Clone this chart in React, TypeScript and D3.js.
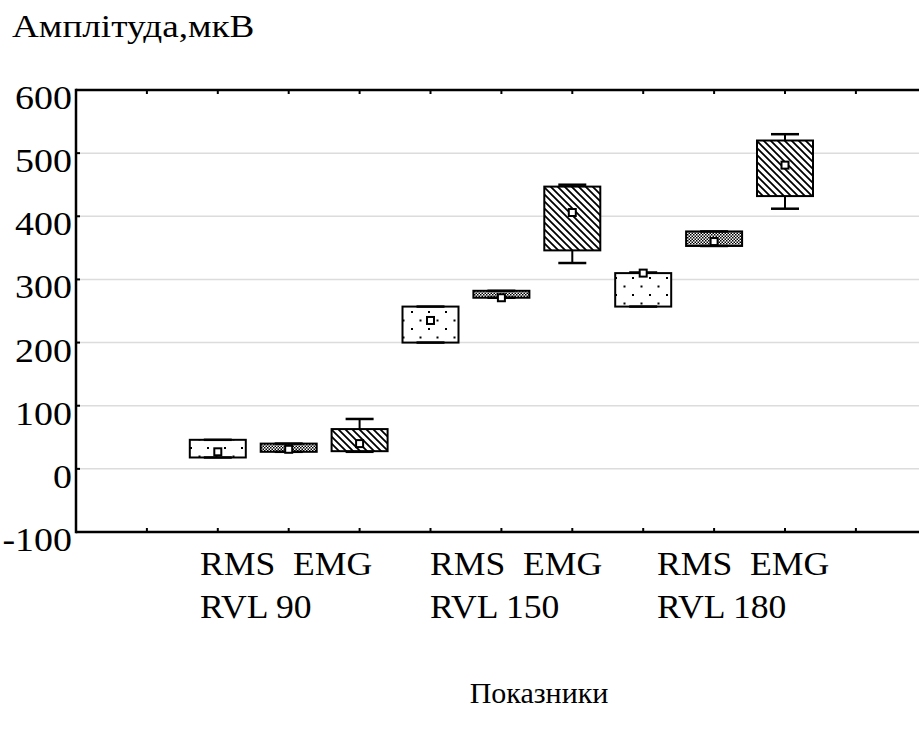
import React from "react";
import * as d3 from "d3";

// ---- data ----
const groupLabels1 = ["RMS  EMG", "RMS  EMG", "RMS  EMG"];
const groupLabels2 = ["RVL 90", "RVL 150", "RVL 180"];
const boxPatterns = ["dots", "dense", "hatch", "dots", "dense", "hatch", "dots", "dense", "hatch"];
const boxPositions = [2, 3, 4, 5, 6, 7, 8, 9, 10];
const boxLow = [18, 27, 28, 200, 271, 346, 257, 353, 432];
const boxHigh = [46, 40, 63, 257, 282, 447, 310, 376, 520];
const whiskerMin = [18, 27, 27, 200, 271, 326, 257, 353, 412];
const whiskerMax = [46, 40, 79, 257, 282, 450, 311, 376, 530];
const means = [27, 31, 40, 235, 271, 406, 310, 360, 481];
const yTicks = [-100, 0, 100, 200, 300, 400, 500, 600];
const gridValues = [0, 100, 200, 300, 400, 500];
const xTicks = [1, 2, 3, 4, 5, 6, 7, 8, 9, 10, 11];
const yTitle = "Амплітуда,мкВ";
const xTitle = "Показники";

// ---- layout ----
const W = 919;
const H = 729;
const left = 76;
const top = 90;
const bottom = 532;
const step = 70.9;
const FONT = "Liberation Serif";

export default function App() {
  const x = d3.scaleLinear().domain([0, 12]).range([left, left + step * 12]);
  const y = d3.scaleLinear().domain([-100, 600]).range([bottom, top]);
  const boxW = 56;
  const capW = 28;
  const labelX = [200, 430, 657];
  const ts = { fontFamily: FONT } as React.CSSProperties;

  return (
    <svg
      width={W}
      height={H}
      style={{ position: "absolute", left: 0, top: 0, display: "block", background: "#fff" }}
    >
      <defs>
        <pattern id="dots" width={17} height={17} patternUnits="userSpaceOnUse" x={0} y={2}>
          <rect width={17} height={17} fill="#fff" />
          <rect x={3} y={3} width={2} height={2} fill="#000" />
          <rect x={11.5} y={11.5} width={2} height={2} fill="#000" />
        </pattern>
        <pattern id="dense" width={3} height={3} patternUnits="userSpaceOnUse">
          <rect width={3} height={3} fill="#fff" />
          <rect x={0} y={0} width={1.5} height={1.5} fill="#000" />
          <rect x={1.5} y={1.5} width={1.5} height={1.5} fill="#000" />
        </pattern>
        <pattern id="hatch" width={7} height={7} patternUnits="userSpaceOnUse">
          <rect width={7} height={7} fill="#fff" />
          <path d="M-1,-1 L8,8 M-1,6 L1,8 M6,-1 L8,1" stroke="#000" strokeWidth={1.8} />
        </pattern>
      </defs>

      {/* title */}
      <text transform="translate(12,37) scale(1.2,1)" fontSize={31} fill="#000" style={ts}>{yTitle}</text>

      {/* grid */}
      {gridValues.map((v) => (
        <line key={"g" + v} x1={left} x2={W} y1={y(v)} y2={y(v)} stroke="#dcdcdc" strokeWidth={1.5} />
      ))}

      {/* axes */}
      <line x1={left} x2={W} y1={top} y2={top} stroke="#000" strokeWidth={2.5} />
      <line x1={left} x2={W} y1={bottom} y2={bottom} stroke="#000" strokeWidth={2.5} />
      <line x1={left} x2={left} y1={top - 1.2} y2={bottom + 1.2} stroke="#000" strokeWidth={2.5} />

      {xTicks.map((t) => (
        <g key={"xt" + t}>
          <line x1={x(t)} x2={x(t)} y1={top} y2={top + 4} stroke="#000" strokeWidth={2} />
          <line x1={x(t)} x2={x(t)} y1={bottom} y2={bottom - 4} stroke="#000" strokeWidth={2} />
        </g>
      ))}

      {yTicks.map((t) => (
        <g key={"yt" + t}>
          <line x1={left} x2={left + 4} y1={y(t)} y2={y(t)} stroke="#000" strokeWidth={2} />
          <text
            transform={`translate(72,${y(t) + 19}) scale(1.15,1)`}
            fontSize={33}
            textAnchor="end"
            fill="#000"
            style={ts}
          >
            {t}
          </text>
        </g>
      ))}

      {/* boxes */}
      {boxPositions.map((p, i) => {
        const cx = x(p);
        return (
          <g key={"b" + i}>
            <line x1={cx} x2={cx} y1={y(whiskerMax[i])} y2={y(boxHigh[i])} stroke="#000" strokeWidth={2} />
            <line x1={cx} x2={cx} y1={y(boxLow[i])} y2={y(whiskerMin[i])} stroke="#000" strokeWidth={2} />
            <rect
              x={cx - boxW / 2}
              y={y(boxHigh[i])}
              width={boxW}
              height={y(boxLow[i]) - y(boxHigh[i])}
              fill={`url(#${boxPatterns[i]})`}
              stroke="#000"
              strokeWidth={2}
            />
            <line x1={cx - capW / 2} x2={cx + capW / 2} y1={y(whiskerMax[i])} y2={y(whiskerMax[i])} stroke="#000" strokeWidth={2.5} />
            <line x1={cx - capW / 2} x2={cx + capW / 2} y1={y(whiskerMin[i])} y2={y(whiskerMin[i])} stroke="#000" strokeWidth={2.5} />
            <rect x={cx - 3.5} y={y(means[i]) - 3.5} width={7} height={7} fill="#fff" stroke="#000" strokeWidth={2} />
          </g>
        );
      })}

      {/* category labels */}
      {groupLabels1.map((l, i) => (
        <g key={"l" + i}>
          <text transform={`translate(${labelX[i]},575) scale(1.08,1)`} fontSize={33} fill="#000" style={{ ...ts, whiteSpace: "pre" }}>{l}</text>
          <text transform={`translate(${labelX[i]},618) scale(1.08,1)`} fontSize={33} fill="#000" style={ts}>{groupLabels2[i]}</text>
        </g>
      ))}

      <text x={539} y={703} fontSize={30} textAnchor="middle" fill="#000" style={ts}>{xTitle}</text>
    </svg>
  );
}
